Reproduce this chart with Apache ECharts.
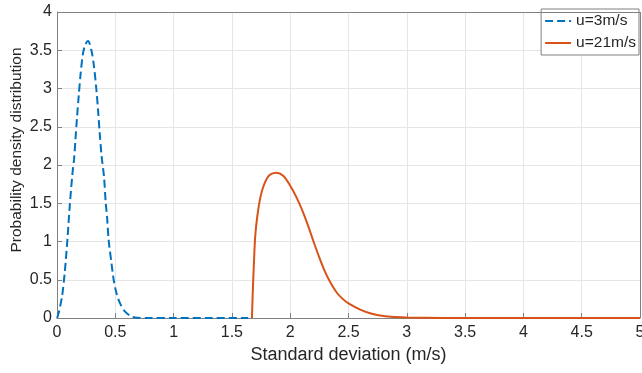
<!DOCTYPE html>
<html><head><meta charset="utf-8">
<script src="https://cdn.jsdelivr.net/npm/echarts@6/dist/echarts.min.js"></script>
<style>html,body{margin:0;padding:0;background:#fff}#c{width:642px;height:373px}</style>
</head><body><div id="c"></div>
<script>
const blueX = [0, 0.005, 0.015, 0.043, 0.066, 0.089, 0.109, 0.132, 0.146, 0.158, 0.172, 0.186, 0.203, 0.223, 0.245, 0.266, 0.295, 0.317, 0.338, 0.352, 0.366, 0.383, 0.403, 0.418, 0.429, 0.443, 0.467, 0.486, 0.509, 0.538, 0.58, 0.638, 0.69, 0.8, 1.0, 1.3, 1.64];
const blueY = [0, 0.02, 0.07, 0.28, 0.59, 1.02, 1.46, 1.88, 2.07, 2.33, 2.63, 2.9, 3.2, 3.46, 3.58, 3.62, 3.5, 3.29, 2.98, 2.72, 2.42, 2.11, 1.85, 1.5, 1.33, 1.02, 0.72, 0.5, 0.33, 0.2, 0.09, 0.02, 0.004, 0, 0, 0, 0];
const orangeX = [1.672, 1.676, 1.681, 1.69, 1.70, 1.718, 1.746, 1.78, 1.823, 1.88, 1.94, 2.0, 2.05, 2.1, 2.15, 2.2, 2.25, 2.3, 2.35, 2.4, 2.45, 2.5, 2.6, 2.7, 2.8, 2.9, 3.0, 3.3, 4.0, 5.0];
const orangeY = [0, 0.2, 0.42, 0.76, 1.07, 1.33, 1.59, 1.76, 1.87, 1.90, 1.86, 1.73, 1.59, 1.42, 1.22, 1.00, 0.79, 0.60, 0.45, 0.33, 0.25, 0.19, 0.11, 0.055, 0.025, 0.012, 0.005, 0.001, 0, 0];
const seriesNames = ['u=3m/s', 'u=21m/s'];

const font = 'Liberation Sans, Arial, Helvetica, sans-serif';
const txt = '#262626';
const axisCol = '#808080';
const chart = echarts.init(document.getElementById('c'), null, {renderer: 'canvas'});
const zip = (a, b) => a.map((v, i) => [v, b[i]]);
const axisCommon = {
  axisLine: {show: true, onZero: false, lineStyle: {color: axisCol, width: 1}},
  axisTick: {show: true, inside: true, length: 5, lineStyle: {color: axisCol}},
  splitLine: {show: true, lineStyle: {color: '#e6e6e6', width: 1}},
  axisLabel: {color: txt, fontFamily: font, fontSize: 16}
};
chart.setOption({
  animation: false,
  backgroundColor: '#fff',
  grid: {left: 57, right: 2, top: 12, bottom: 55, containLabel: false, outerBoundsMode: 'none'},
  legend: {
    right: 3, top: 9, orient: 'vertical',
    data: seriesNames,
    itemWidth: 26, itemHeight: 14, itemGap: 6,
    padding: [4, 3, 4, 3],
    borderColor: axisCol, borderWidth: 1, backgroundColor: '#fff',
    itemStyle: {opacity: 0},
    textStyle: {color: txt, fontFamily: font, fontSize: 15.5, lineHeight: 14}
  },
  xAxis: Object.assign({}, axisCommon, {
    type: 'value', min: 0, max: 5, interval: 0.5,
    name: 'Standard deviation (m/s)', nameLocation: 'middle', nameGap: 28,
    nameTextStyle: {color: txt, fontFamily: font, fontSize: 18},
    axisLabel: Object.assign({}, axisCommon.axisLabel, {margin: 7, formatter: v => String(v)})
  }),
  yAxis: Object.assign({}, axisCommon, {
    type: 'value', min: 0, max: 4, interval: 0.5,
    name: 'Probability density distribution', nameLocation: 'middle', nameGap: 32, nameMoveOverlap: false,
    nameTextStyle: {color: txt, fontFamily: font, fontSize: 15.5, padding: [0, 0, 0, 30]},
    axisLabel: Object.assign({}, axisCommon.axisLabel, {margin: 5, formatter: v => String(v)})
  }),
  series: [
    {name: seriesNames[0], type: 'line', data: zip(blueX, blueY), showSymbol: false, symbol: 'none',
     smooth: 0.3, color: '#0072BD',
     lineStyle: {color: '#0072BD', width: 2, type: [8, 4]}},
    {name: seriesNames[1], type: 'line', data: zip(orangeX, orangeY), showSymbol: false, symbol: 'none',
     smooth: 0.3, color: '#D95319',
     lineStyle: {color: '#D95319', width: 2}}
  ],
  graphic: [{type: 'line', shape: {x1: 57, y1: 12.5, x2: 640, y2: 12.5}, style: {stroke: axisCol, lineWidth: 1}, z: 100},
            {type: 'line', shape: {x1: 640.5, y1: 12, x2: 640.5, y2: 318}, style: {stroke: axisCol, lineWidth: 1}, z: 100}]
});
</script></body></html>
